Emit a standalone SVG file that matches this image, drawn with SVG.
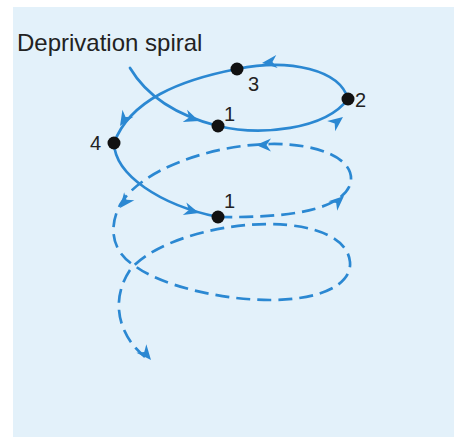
<svg xmlns="http://www.w3.org/2000/svg" xmlns:xlink="http://www.w3.org/1999/xlink" width="454" height="437" viewBox="0 0 454 437">
<style>
.bg{fill:#e3f1fa}
.title{font-family:"Liberation Sans",Arial,sans-serif;font-size:24px;fill:#222}
.lbl{font-family:"Liberation Sans",Arial,sans-serif;font-size:20px;fill:#222}
.solid{fill:none;stroke:#2b88d2;stroke-width:2.7;stroke-linecap:round}
.dash{fill:none;stroke:#2b88d2;stroke-width:2.7;stroke-dasharray:14 7}
.dot{fill:#111}
.ah{fill:#2b88d2}
</style>
<defs>
<path id="ah" d="M0,0 L-15,-6.5 L-10.5,0 L-15,6.5 Z"/>
</defs>
<rect x="0" y="0" width="454" height="437" fill="#ffffff"/>
<rect class="bg" x="13" y="7" width="441" height="430"/>
<text class="title" x="17" y="51">Deprivation spiral</text>
<g id="connectors">
<path class="solid" d="M130,68 Q155,110 218,126"/>
<path class="solid" d="M218,126 C260,136 325,130 348,99"/>
<path class="solid" d="M348,99 C340,70 290,58 237,69"/>
<path class="solid" d="M237,69 C180,80 130,100 114,143"/>
<path class="solid" d="M114,143 C115,175 160,205 218,217"/>
<path class="dash" d="M218,217 C290,218 340,210 350,185 C358,160 320,143 270,144 C210,145 140,170 120,205 C108,228 112,252 135,266 C160,285 220,300 270,300 C320,300 352,285 350,262 C348,240 320,225 270,224 C210,224 150,245 130,270 C110,300 118,335 145,357"/>
<g class="ah">
<use xlink:href="#ah" transform="translate(199,121) rotate(20)"/>
<use xlink:href="#ah" transform="translate(343,117) rotate(-38)"/>
<use xlink:href="#ah" transform="translate(262,63) rotate(174)"/>
<use xlink:href="#ah" transform="translate(120,126) rotate(122)"/>
<use xlink:href="#ah" transform="translate(199,213) rotate(16)"/>
<use xlink:href="#ah" transform="translate(344,196) rotate(-42)"/>
<use xlink:href="#ah" transform="translate(256,145) rotate(180)"/>
<use xlink:href="#ah" transform="translate(120,208) rotate(128)"/>
<use xlink:href="#ah" transform="translate(151,360) rotate(50)"/>
</g>
</g>
<g id="n3"><circle class="dot" cx="237" cy="69" r="6.5"/><text class="lbl" x="248" y="91">3</text></g>
<g id="n2"><circle class="dot" cx="348" cy="99" r="6.5"/><text class="lbl" x="355" y="107">2</text></g>
<g id="n1a"><circle class="dot" cx="218" cy="126" r="6.5"/><text class="lbl" x="224" y="121">1</text></g>
<g id="n4"><circle class="dot" cx="114" cy="143" r="6.5"/><text class="lbl" x="90" y="150">4</text></g>
<g id="n1b"><circle class="dot" cx="218" cy="217" r="6.5"/><text class="lbl" x="224" y="208">1</text></g>
</svg>
